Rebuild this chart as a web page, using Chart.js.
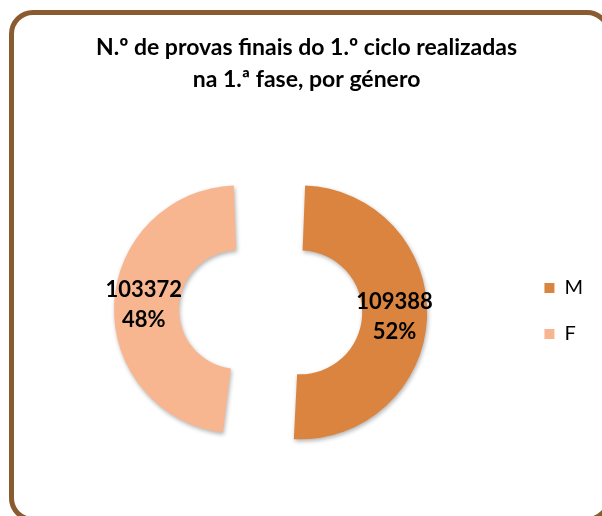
<!DOCTYPE html>
<html>
<head>
<meta charset="utf-8">
<script src="https://cdn.jsdelivr.net/npm/chart.js@4.4.1/dist/chart.umd.min.js"></script>
<style>
  html, body { margin: 0; padding: 0; background: #ffffff; }
  body { width: 602px; height: 516px; position: relative; overflow: hidden; }
  #frame { position: absolute; left: 9px; top: 10px; width: 602px; height: 512px;
           border: 5px solid #8A5B2E; border-radius: 24px; box-sizing: border-box; }
  #wrap { position: absolute; left: 0; top: 0; width: 602px; height: 516px; }
</style>
</head>
<body>
<div id="frame"></div>
<div id="wrap"><canvas id="c" width="602" height="516"></canvas></div>
<script>
const titleLines = ["N.º de provas finais do 1.º ciclo realizadas", "na 1.ª fase, por género"];
const categories = ["M", "F"];
const counts = [109388, 103372];
const percents = ["52%", "48%"];
const colors = ["#DA843F", "#F8B690"];

const shadowPlugin = {
  id: 'shadow',
  beforeDatasetsDraw(chart) {
    const ctx = chart.ctx;
    ctx.save();
    ctx.shadowColor = 'rgba(0,0,0,0.3)';
    ctx.shadowBlur = 4;
    ctx.shadowOffsetX = 1;
    ctx.shadowOffsetY = 2;
  },
  afterDatasetsDraw(chart) {
    chart.ctx.restore();
  }
};

const labelPlugin = {
  id: 'sliceLabels',
  afterDatasetsDraw(chart) {
    const ctx = chart.ctx;
    const meta = chart.getDatasetMeta(0);
    ctx.save();
    ctx.fillStyle = '#000000';
    ctx.font = 'bold 22px Lato';
    ctx.textAlign = 'center';
    ctx.textBaseline = 'middle';
    meta.data.forEach((arc, i) => {
      const p = arc.tooltipPosition();
      ctx.fillText(String(counts[i]), p.x, p.y - 15);
      ctx.fillText(percents[i], p.x, p.y + 15);
    });
    ctx.restore();
  }
};

new Chart(document.getElementById('c'), {
  type: 'doughnut',
  data: {
    labels: categories,
    datasets: [{
      data: counts,
      backgroundColor: colors,
      borderWidth: 0,
      offset: 124,
      hoverOffset: 124,
      clip: false
    }]
  },
  options: {
    responsive: false,
    animation: false,
    radius: 96,
    cutout: '32.3%',
    layout: { padding: { left: 20, right: 9, top: 0, bottom: 10 } },
    plugins: {
      tooltip: { enabled: false },
      title: {
        display: true,
        text: titleLines,
        color: '#000000',
        font: { family: 'Lato', size: 23, weight: 'bold', lineHeight: 1.39 },
        padding: { top: 32, bottom: 20 }
      },
      legend: {
        position: 'right',
        fullSize: false,
        labels: {
          color: '#000000',
          font: { family: 'Lato', size: 20 },
          boxWidth: 10,
          boxHeight: 10,
          padding: 26
        }
      }
    }
  },
  plugins: [shadowPlugin, labelPlugin]
});
</script>
</body>
</html>
